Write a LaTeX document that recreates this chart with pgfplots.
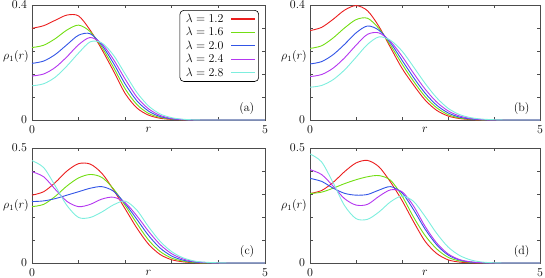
\documentclass[border=0pt]{standalone}
\usepackage{pgfplots}
\pgfplotsset{compat=1.18}
\usepackage{pgfplotstable}
\definecolor{cA}{RGB}{235,30,30}
\definecolor{cB}{RGB}{115,222,20}
\definecolor{cC}{RGB}{50,85,230}
\definecolor{cD}{RGB}{180,55,240}
\definecolor{cE}{RGB}{125,238,222}

\pgfplotstableread{
r    a     b     c     d     e
0    0.319 0.252 0.197 0.153 0.119
0.25 0.328 0.260 0.205 0.160 0.126
0.5  0.347 0.283 0.228 0.183 0.149
0.75 0.365 0.313 0.262 0.220 0.188
1.0  0.362 0.330 0.295 0.262 0.233
1.25 0.312 0.307 0.300 0.287 0.272
1.5  0.245 0.253 0.260 0.265 0.268
1.75 0.170 0.183 0.197 0.210 0.225
2.0  0.092 0.108 0.125 0.142 0.160
2.25 0.042 0.054 0.067 0.080 0.096
2.5  0.017 0.023 0.031 0.039 0.049
2.75 0.006 0.009 0.012 0.016 0.021
3.0  0.002 0.003 0.004 0.005 0.008
3.25 0.0005 0.001 0.001 0.0015 0.0025
3.5  0 0 0 0 0.0005
3.75 0 0 0 0 0
4.0  0 0 0 0 0
4.5  0 0 0 0 0
5.0  0 0 0 0 0
}\tabA

\pgfplotstableread{
r    a     b     c     d     e
0    0.311 0.249 0.195 0.151 0.114
0.25 0.322 0.258 0.203 0.158 0.120
0.5  0.350 0.285 0.227 0.180 0.140
0.75 0.382 0.320 0.263 0.216 0.174
1.0  0.398 0.349 0.303 0.260 0.218
1.25 0.380 0.354 0.327 0.298 0.263
1.5  0.325 0.318 0.312 0.303 0.289
1.75 0.252 0.260 0.268 0.273 0.277
2.0  0.180 0.195 0.208 0.222 0.240
2.25 0.122 0.135 0.148 0.163 0.185
2.5  0.070 0.082 0.094 0.108 0.128
2.75 0.034 0.043 0.052 0.063 0.078
3.0  0.014 0.019 0.025 0.032 0.041
3.25 0.005 0.007 0.010 0.014 0.019
3.5  0.0015 0.0025 0.0035 0.005 0.008
3.75 0 0.0005 0.001 0.0015 0.003
4.0  0 0 0 0 0.001
4.25 0 0 0 0 0
4.5  0 0 0 0 0
5.0  0 0 0 0 0
}\tabB

\pgfplotstableread{
r    a     b     c     d     e
0    0.295 0.245 0.267 0.397 0.445
0.25 0.310 0.255 0.270 0.375 0.415
0.5  0.350 0.290 0.280 0.320 0.335
0.75 0.400 0.335 0.295 0.268 0.250
1.0  0.432 0.370 0.310 0.245 0.198
1.25 0.430 0.385 0.325 0.255 0.198
1.5  0.390 0.372 0.332 0.278 0.222
1.75 0.318 0.322 0.312 0.286 0.253
2.0  0.235 0.250 0.258 0.262 0.269
2.25 0.152 0.172 0.190 0.205 0.230
2.5  0.082 0.100 0.120 0.138 0.158
2.75 0.037 0.050 0.065 0.080 0.094
3.0  0.014 0.021 0.030 0.040 0.049
3.25 0.005 0.008 0.012 0.017 0.022
3.5  0.001 0.002 0.004 0.006 0.008
3.75 0 0 0.001 0.002 0.003
4.0  0 0 0 0 0.001
4.25 0 0 0 0 0
4.5  0 0 0 0 0
5.0  0 0 0 0 0
}\tabC

\pgfplotstableread{
r    a     b     c     d     e
0    0.302 0.302 0.368 0.406 0.474
0.25 0.315 0.308 0.355 0.385 0.440
0.5  0.350 0.325 0.326 0.335 0.350
0.75 0.397 0.345 0.303 0.280 0.250
1.0  0.435 0.362 0.295 0.252 0.193
1.25 0.446 0.375 0.298 0.255 0.190
1.5  0.418 0.380 0.317 0.290 0.222
1.75 0.352 0.360 0.332 0.318 0.266
2.0  0.272 0.292 0.305 0.310 0.291
2.25 0.180 0.200 0.232 0.248 0.268
2.5  0.095 0.120 0.148 0.160 0.203
2.75 0.042 0.062 0.080 0.088 0.130
3.0  0.014 0.025 0.035 0.040 0.070
3.25 0.004 0.009 0.013 0.015 0.033
3.5  0.001 0.003 0.004 0.005 0.013
3.75 0 0.001 0.001 0.0015 0.004
4.0  0 0 0 0 0.001
4.25 0 0 0 0 0
4.5  0 0 0 0 0
5.0  0 0 0 0 0
}\tabD

\pgfplotsset{
  panel/.style={
    scale only axis, height=115pt,
    xmin=0, xmax=5, ymin=0,
    xtick={0,1,2,3,4,5}, xticklabels={0,,,,,5},
    axis line style={black!70, line width=0.8pt},
    tick style={black!70, line width=0.6pt},
    major tick length=3pt,
    xticklabel style={yshift=-1.5pt},
    yticklabel style={xshift=-1.5pt},
    every axis x label/.style={at={(axis description cs:0.5,0)}, anchor=base, yshift=-12.5pt},
    xlabel={$r$}, ylabel={$\rho_1(r)$},
    every axis plot/.append style={line width=0.9pt, smooth},
  },
  ylab/.style={every axis y label/.style={at={(axis description cs:0,#1)}, anchor=east, xshift=-3pt, inner sep=0pt}},
  top/.style={ymax=0.4, ytick={0,0.08,0.16,0.24,0.32,0.4}, yticklabels={0,,,,,0.4}, ylab=0.55},
  bot/.style={ymax=0.5, ytick={0,0.1,0.2,0.3,0.4,0.5}, yticklabels={0,,,,,0.5}, ylab=0.5},
}

\newcommand\curves[1]{%
  \addplot[color=cA] table[x=r,y=a] {#1};
  \addplot[color=cB] table[x=r,y=b] {#1};
  \addplot[color=cC] table[x=r,y=c] {#1};
  \addplot[color=cD] table[x=r,y=d] {#1};
  \addplot[color=cE] table[x=r,y=e] {#1};
}

\begin{document}
\begin{tikzpicture}[font=\fontsize{12}{14}\selectfont]
\useasboundingbox (0,0) rectangle (545pt,-277pt);

\begin{axis}[panel, top, width=233pt, at={(32pt,-5pt)}, anchor=north west,
  legend plot pos=right,
  legend image code/.code={\draw[line width=1.1pt, #1] (0pt,0pt) -- (24pt,0pt);},
  legend style={at={(1,1)}, anchor=north east, xshift=-6pt, yshift=-5pt,
    rounded corners=4pt, line width=0.6pt,
    cells={anchor=west}, nodes={inner xsep=3pt, inner ysep=1.8pt}, column sep=4pt}]
\curves{\tabA}
\legend{$\lambda=1.2$,$\lambda=1.6$,$\lambda=2.0$,$\lambda=2.4$,$\lambda=2.8$}
\node[anchor=south east, inner sep=0pt] at (rel axis cs:0.955,0.05) {(a)};
\end{axis}

\begin{axis}[panel, top, width=230pt, at={(310pt,-5pt)}, anchor=north west]
\curves{\tabB}
\node[anchor=south east, inner sep=0pt] at (rel axis cs:0.955,0.05) {(b)};
\end{axis}

\begin{axis}[panel, bot, width=233pt, at={(32pt,-148pt)}, anchor=north west]
\curves{\tabC}
\node[anchor=south east, inner sep=0pt] at (rel axis cs:0.955,0.05) {(c)};
\end{axis}

\begin{axis}[panel, bot, width=230pt, at={(310pt,-148pt)}, anchor=north west]
\curves{\tabD}
\node[anchor=south east, inner sep=0pt] at (rel axis cs:0.955,0.05) {(d)};
\end{axis}
\end{tikzpicture}
\end{document}
